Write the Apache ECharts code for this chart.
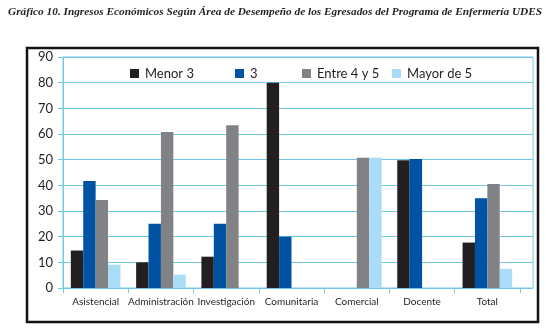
<!DOCTYPE html>
<html lang="es">
<head>
<meta charset="utf-8" />
<title>Gráfico 10</title>
<style>
  html, body { margin: 0; padding: 0; background: #fff; }
  #main { width: 546px; height: 331px; }
</style>
</head>
<body>
<div id="main"></div>
<script src="https://cdn.jsdelivr.net/npm/echarts@6/dist/echarts.min.js"></script>
<script>
// categorías y series
const categories = ['Asistencial', 'Administración', 'Investigación', 'Comunitaria', 'Comercial', 'Docente', 'Total'];
const menor3 = [14.6, 10, 12.2, 80, 0, 49.8, 17.7];
const tres = [41.7, 25, 25, 20, 0, 50.3, 35];
const entre4y5 = [34.3, 60.8, 63.4, 0, 50.7, 0, 40.5];
const mayor5 = [9.1, 5.2, 0, 0, 50.7, 0, 7.5];
const yTicks = { min: 0, max: 90, interval: 10 };

const seriesNames = ['Menor 3', '3', 'Entre 4 y 5', 'Mayor de 5'];
const seriesData = [menor3, tres, entre4y5, mayor5];
const colors = ['#231f20', '#0053a2', '#818285', '#a9dcf6'];
const legendLeft = [125, 230, 297, 387];

const grid = '#74c7e9';
const txt = '#231f20';
const font = 'Lato';

const chart = echarts.init(document.getElementById('main'));

chart.setOption({
  animation: false,
  title: {
    text: 'Gráfico 10. Ingresos Económicos Según Área de Desempeño de los Egresados del Programa de Enfermería UDES',
    left: 3, top: 2,
    textStyle: { fontFamily: '"Liberation Serif", "DejaVu Serif", serif', fontStyle: 'italic', fontWeight: 'bold', fontSize: 11.3, color: txt }
  },
  legend: seriesNames.map((n, i) => ({
    data: [n], left: legendLeft[i], top: 62,
    itemWidth: 9, itemHeight: 9, itemGap: 0,
    icon: 'rect', textStyle: { fontFamily: font, fontSize: 13, color: txt, padding: [0, 0, 0, 1] }
  })),
  graphic: [{
    type: 'rect', shape: { x: 27, y: 48, width: 511, height: 274 },
    style: { fill: 'none', stroke: '#111', lineWidth: 2.5 }, z: -1
  }],
  grid: [
    { left: 63, top: 57, width: 470, height: 231, show: true, borderColor: grid, borderWidth: 1 },
    { left: 63, top: 57, width: 457, height: 231 }
  ],
  xAxis: [
    { gridIndex: 0, type: 'value', min: 0, max: 1, show: false },
    {
      gridIndex: 1, type: 'category', data: categories,
      axisLine: { lineStyle: { color: grid } },
      axisTick: { show: true, length: 5, lineStyle: { color: grid } },
      axisLabel: { interval: 0, fontFamily: font, fontSize: 10, color: txt, margin: 9 }
    }
  ],
  yAxis: [
    {
      gridIndex: 0, type: 'value', ...yTicks,
      axisLine: { show: true, lineStyle: { color: grid } },
      axisTick: { show: true, length: 5, lineStyle: { color: grid } },
      splitLine: { lineStyle: { color: grid, width: 1 } },
      axisLabel: { fontFamily: font, fontSize: 13, color: txt, margin: 10 }
    },
    { gridIndex: 1, type: 'value', ...yTicks, show: false }
  ],
  series: seriesNames.map((n, i) => ({
    name: n, type: 'bar', xAxisIndex: 1, yAxisIndex: 1,
    data: seriesData[i], barWidth: 12.4, barGap: '0%',
    itemStyle: { color: colors[i] }
  }))
});
</script>
</body>
</html>
